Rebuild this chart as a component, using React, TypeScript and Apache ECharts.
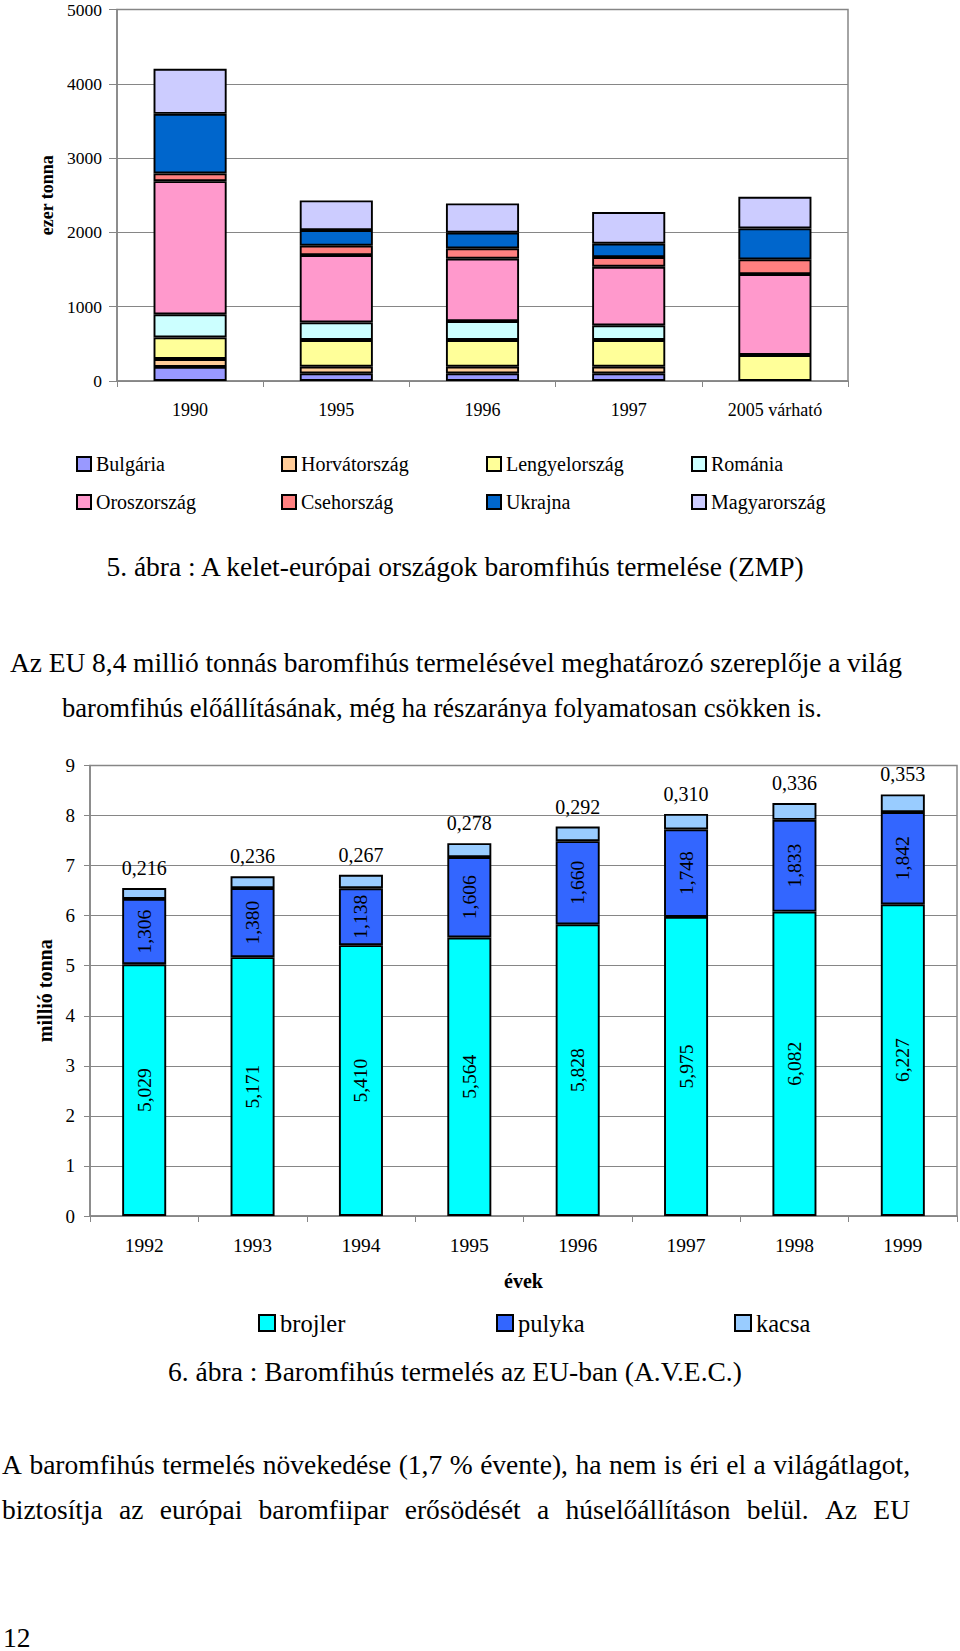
import React, { useEffect, useRef } from 'react';
import * as echarts from 'echarts';

// ---------- Chart 1 data (ezer tonna) ----------
const years1 = ['1990', '1995', '1996', '1997', '2005 várható'];
const countries = ['Bulgária', 'Horvátország', 'Lengyelország', 'Románia', 'Oroszország', 'Csehország', 'Ukrajna', 'Magyarország'];
const bulgaria = [190, 103, 103, 103, 0];
const horvatorszag = [106, 90, 90, 90, 0];
const lengyelorszag = [291, 359, 359, 359, 350];
const romania = [310, 237, 255, 197, 0];
const oroszorszag = [1793, 906, 839, 789, 1089];
const csehorszag = [104, 126, 139, 130, 198];
const ukrajna = [802, 210, 211, 180, 417];
const magyarorszag = [606, 399, 394, 426, 426];
const countryValues = [bulgaria, horvatorszag, lengyelorszag, romania, oroszorszag, csehorszag, ukrajna, magyarorszag];
const countryColors = ['#9999FF', '#FFCC99', '#FFFF99', '#CCFFFF', '#FF99CC', '#FF8080', '#0066CC', '#CCCCFF'];

// ---------- Chart 2 data (millió tonna) ----------
const years2 = ['1992', '1993', '1994', '1995', '1996', '1997', '1998', '1999'];
const brojler = [5.029, 5.171, 5.41, 5.564, 5.828, 5.975, 6.082, 6.227];
const pulyka = [1.306, 1.38, 1.138, 1.606, 1.66, 1.748, 1.833, 1.842];
const kacsa = [0.216, 0.236, 0.267, 0.278, 0.292, 0.31, 0.336, 0.353];
const euNames = ['brojler', 'pulyka', 'kacsa'];
const euColors = ['#00FFFF', '#3366FF', '#99CCFF'];

// ---------- Texts ----------
const caption1 = '5. ábra : A kelet-európai országok baromfihús termelése (ZMP)';
const para1Line1 = 'Az EU 8,4 millió tonnás baromfihús termelésével meghatározó szereplője a világ';
const para1Line2 = 'baromfihús előállításának, még ha részaránya folyamatosan csökken is.';
const caption2 = '6. ábra : Baromfihús termelés az EU-ban (A.V.E.C.)';
const para2Line1 = 'A baromfihús termelés növekedése (1,7 % évente), ha nem is éri el a világátlagot,';
const para2Line2 = 'biztosítja az európai baromfiipar erősödését a húselőállításon belül. Az EU';
const pageNumber = '12';

const FONT = "'Liberation Serif', 'Times New Roman', serif";
const GRAY = '#868686';
const CAPTION_SIZE = 27.5;
const BODY_SIZE = 27.5;
const BODY_SIZE_SMALL = 26.6;

const fmt3 = (p: any) => Number(p.value).toFixed(3).replace('.', ',');

function txt(text: string, x: number, y: number, size: number, align = 'left', weight = 'normal') {
  return {
    type: 'text',
    x,
    y,
    silent: true,
    style: {
      text,
      fontFamily: FONT,
      fontSize: size,
      fontWeight: weight,
      fill: '#000',
      align,
      verticalAlign: 'middle',
    },
  };
}

function justify(line: string, x0: number, x1: number, y: number, size: number) {
  const canvas = document.createElement('canvas');
  const ctx = canvas.getContext('2d')!;
  ctx.font = `${size}px 'Liberation Serif'`;
  const words = line.split(' ');
  const widths = words.map((w) => ctx.measureText(w).width);
  const total = widths.reduce((a, b) => a + b, 0);
  const gap = (x1 - x0 - total) / (words.length - 1);
  let x = x0;
  return words.map((w, i) => {
    const el = txt(w, x, y, size);
    x += widths[i] + gap;
    return el;
  });
}

export default function App() {
  const ref = useRef<HTMLDivElement>(null);

  useEffect(() => {
    if (!ref.current) return;
    const chart = echarts.init(ref.current, undefined, { renderer: 'svg' });

    const axisLineStyle = { color: GRAY, width: 1.5 };
    const labelStyle = { fontFamily: FONT, color: '#000' };

    const series1 = countryValues.map((vals, i) => ({
      type: 'bar',
      name: countries[i],
      stack: 'kelet',
      xAxisIndex: 0,
      yAxisIndex: 0,
      barWidth: '50%',
      data: vals.map((v) => (v === 0 ? null : v)),
      itemStyle: { color: countryColors[i], borderColor: '#000', borderWidth: 1.9 },
    }));

    const euData = [brojler, pulyka, kacsa];
    const series2 = euData.map((vals, i) => ({
      type: 'bar',
      name: euNames[i],
      stack: 'eu',
      xAxisIndex: 1,
      yAxisIndex: 1,
      barWidth: '40.6%',
      data: vals,
      itemStyle: { color: euColors[i], borderColor: '#000', borderWidth: 1.9 },
      label:
        i < 2
          ? { show: true, position: 'inside', rotate: 90, fontFamily: FONT, fontSize: 19.5, color: '#000', formatter: fmt3 }
          : { show: true, position: 'top', distance: 10, fontFamily: FONT, fontSize: 20, color: '#000', formatter: fmt3 },
    }));

    const legendCommon = {
      orient: 'horizontal',
      itemGap: 0,
      padding: 0,
      icon: 'rect',
      selectedMode: false,
    };

    const graphics: any[] = [
      txt(caption1, 455, 566, CAPTION_SIZE, 'center'),
      ...justify(para1Line1, 10, 902, 662.5, BODY_SIZE),
      txt(para1Line2, 62, 708, BODY_SIZE_SMALL),
      txt(caption2, 455, 1371.5, CAPTION_SIZE, 'center'),
      ...justify(para2Line1, 2, 910, 1464, BODY_SIZE),
      ...justify(para2Line2, 2, 910, 1509, BODY_SIZE),
      txt(pageNumber, 3, 1637, CAPTION_SIZE),
    ];

    chart.setOption({
      animation: false,
      backgroundColor: '#fff',
      textStyle: { fontFamily: FONT },
      grid: [
        { left: 117, top: 9.5, width: 731, height: 371.5, show: true, borderColor: GRAY, borderWidth: 1.5, backgroundColor: 'transparent' },
        { left: 90, top: 765.5, width: 867, height: 450.5, show: true, borderColor: GRAY, borderWidth: 1.5, backgroundColor: 'transparent' },
      ],
      xAxis: [
        {
          type: 'category',
          gridIndex: 0,
          data: years1,
          axisLine: { lineStyle: axisLineStyle },
          axisTick: { show: true, length: 6, lineStyle: { color: GRAY, width: 1 } },
          axisLabel: { ...labelStyle, fontSize: 18, margin: 20 },
        },
        {
          type: 'category',
          gridIndex: 1,
          data: years2,
          axisLine: { lineStyle: axisLineStyle },
          axisTick: { show: true, length: 6, lineStyle: { color: GRAY, width: 1 } },
          axisLabel: { ...labelStyle, fontSize: 19.5, margin: 19 },
          name: 'évek',
          nameLocation: 'middle',
          nameGap: 55,
          nameTextStyle: { fontFamily: FONT, fontSize: 20, fontWeight: 'bold', color: '#000' },
        },
      ],
      yAxis: [
        {
          type: 'value',
          gridIndex: 0,
          min: 0,
          max: 5000,
          interval: 1000,
          axisLine: { show: true, lineStyle: axisLineStyle },
          axisTick: { show: true, length: 8, lineStyle: { color: GRAY, width: 1 } },
          splitLine: { lineStyle: { color: GRAY, width: 1 } },
          axisLabel: { ...labelStyle, fontSize: 17.5, margin: 15, formatter: (v: number) => String(v) },
          name: 'ezer tonna',
          nameLocation: 'middle',
          nameGap: 57,
          nameTextStyle: { fontFamily: FONT, fontSize: 18, fontWeight: 'bold', color: '#000' },
        },
        {
          type: 'value',
          gridIndex: 1,
          min: 0,
          max: 9,
          interval: 1,
          axisLine: { show: true, lineStyle: axisLineStyle },
          axisTick: { show: true, length: 6, lineStyle: { color: GRAY, width: 1 } },
          splitLine: { lineStyle: { color: GRAY, width: 1 } },
          axisLabel: { ...labelStyle, fontSize: 19, margin: 15, formatter: (v: number) => String(v) },
          name: 'millió tonna',
          nameLocation: 'middle',
          nameGap: 35,
          nameTextStyle: { fontFamily: FONT, fontSize: 20, fontWeight: 'bold', color: '#000' },
        },
      ],
      legend: [
        {
          ...legendCommon,
          data: countries.slice(0, 4),
          left: 76,
          top: 452,
          width: 840,
          itemWidth: 14,
          itemHeight: 14,
          textStyle: { fontFamily: FONT, fontSize: 20, color: '#000', width: 185, lineHeight: 24 },
        },
        {
          ...legendCommon,
          data: countries.slice(4, 8),
          left: 76,
          top: 490,
          width: 840,
          itemWidth: 14,
          itemHeight: 14,
          textStyle: { fontFamily: FONT, fontSize: 20, color: '#000', width: 185, lineHeight: 24 },
        },
        {
          ...legendCommon,
          data: [
            { name: euNames[0] },
            { name: euNames[1] },
            { name: euNames[2], textStyle: { width: 80 } },
          ],
          left: 258,
          top: 1308,
          width: 600,
          itemWidth: 16,
          itemHeight: 16,
          textStyle: { fontFamily: FONT, fontSize: 24.5, color: '#000', width: 216, lineHeight: 30 },
        },
      ],
      series: [...series1, ...series2],
      graphic: graphics,
    });

    return () => {
      chart.dispose();
    };
  }, []);

  return <div ref={ref} style={{ position: 'absolute', left: 0, top: 0, width: 960, height: 1651 }} />;
}
